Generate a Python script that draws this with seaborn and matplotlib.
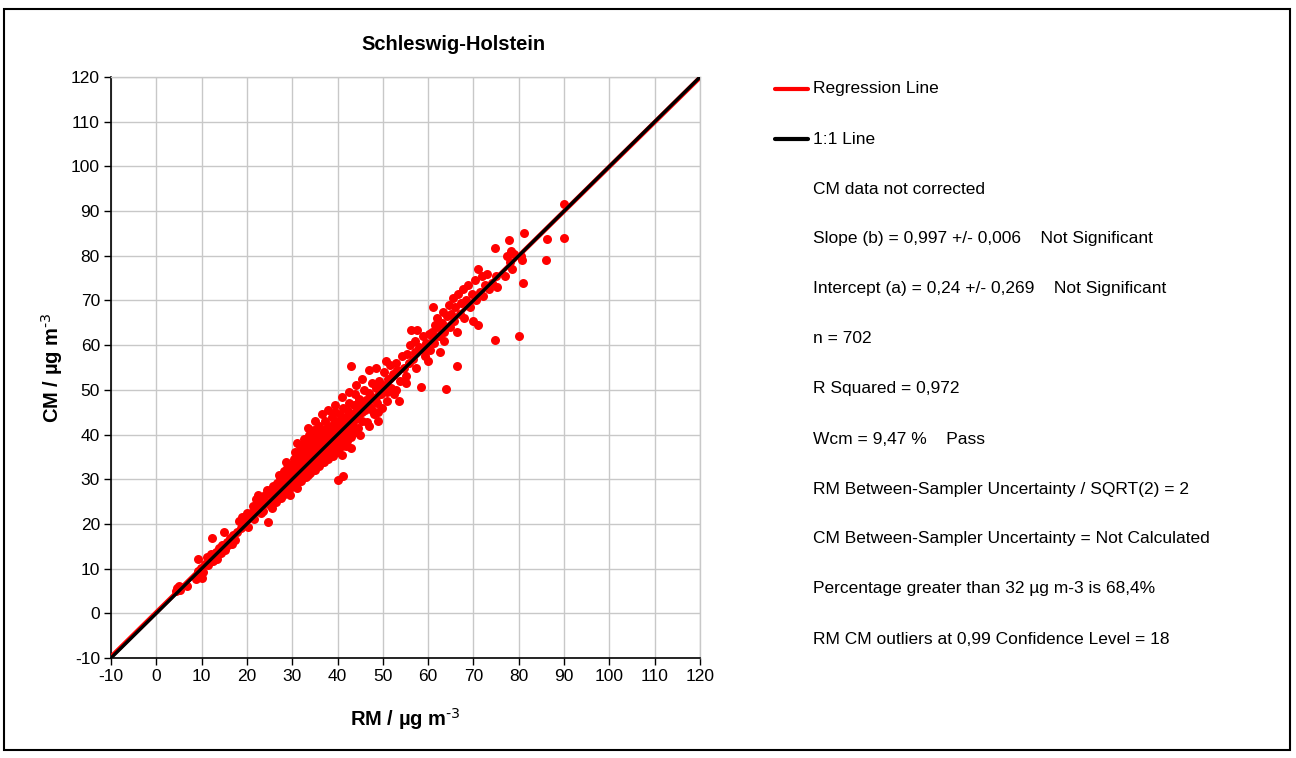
import matplotlib
matplotlib.use("Agg")
import matplotlib.pyplot as plt
import seaborn as sns
import pandas as pd
import numpy as np
from matplotlib.patches import Rectangle
from matplotlib.lines import Line2D

# ---- data ----
rm = [4.3, 4.6, 5.0, 5.3, 6.8, 8.7, 9.0, 9.3, 9.3, 9.8, 10.0, 10.3,
      10.8, 11.2, 11.5, 12.0, 12.2, 12.5, 12.8, 13.2, 13.5, 13.8, 14.2, 14.6, 15.0, 15.2, 15.5, 15.9, 16.2, 16.6, 17.0, 17.4, 17.8, 18.3, 18.6, 19.0, 19.4, 19.8, 20.2,
      20.6, 21.0, 21.3, 21.7, 22.0, 22.3, 22.7, 23.0, 23.3, 23.6, 24.0, 24.3, 24.6, 25.0, 25.2, 25.5, 25.8, 26.0, 26.3, 26.6, 26.9, 27.1, 27.4, 27.6, 27.9, 28.1, 28.3, 28.5, 28.7, 28.9, 29.1, 29.3, 29.5, 29.7, 29.9,
      30.0, 30.1, 30.3, 30.4, 30.6, 30.7, 30.9, 31.0, 31.1, 31.3, 31.4, 31.6, 31.7, 31.9, 32.0, 32.2, 32.3, 32.5, 32.6, 32.8, 32.9, 33.1, 33.2, 33.4, 33.5, 33.7, 33.8, 34.0, 34.1, 34.3, 34.4, 34.6, 34.7, 34.9, 35.0, 35.2, 35.3, 35.5, 35.6, 35.8, 35.9, 36.1, 36.2, 36.4, 36.5, 36.7, 36.8, 37.0, 37.1, 37.3, 37.4, 37.6, 37.7, 37.9, 38.0, 38.2, 38.3, 38.5, 38.6, 38.8, 38.9, 39.1, 39.2, 39.4, 39.5, 39.7, 39.8, 40.0, 40.0, 41.2,
      40.2, 40.4, 40.6, 40.8, 41.0, 41.2, 41.4, 41.6, 41.8, 42.0, 42.2, 42.4, 42.6, 42.8, 43.0, 43.2, 43.4, 43.6, 43.8, 44.0, 44.2, 44.5, 44.7, 45.0, 45.2, 45.5, 45.8, 46.0, 46.3, 46.6, 46.9, 47.2, 47.5, 47.8, 48.1, 48.4, 48.7, 49.0, 49.2, 49.5, 49.8,
      50.0, 50.3, 50.6, 50.9, 51.2, 51.5, 51.8, 52.2, 52.5, 52.8, 53.2, 53.5, 53.8, 54.2, 54.6, 55.0, 55.3, 55.7, 56.0, 56.3, 56.6, 57.0, 57.3, 57.6, 58.0, 58.5, 58.8, 59.2, 59.6, 60.0,
      60.2, 60.5, 60.8, 61.0, 61.3, 61.6, 62.0, 62.3, 62.6, 63.0, 63.3, 63.6, 63.9, 64.2, 64.5, 64.8, 65.1, 65.4, 65.7, 66.0, 66.3, 66.3, 66.6, 67.0, 67.3, 67.6, 68.0, 68.4, 68.8, 69.2, 69.6, 70.0, 70.3, 70.6, 71.0, 71.0, 71.4, 71.8, 72.2, 72.6, 73.0, 73.5, 74.0, 74.7, 74.7, 75.0, 75.3,
      77.0, 77.5, 77.8, 78.0, 78.3, 78.6, 79.0, 80.1, 80.5, 80.8, 81.2, 81.0, 86.0, 86.2, 90.0, 90.0,
      20.0, 21.5, 22.5, 23.5, 24.5, 25.5, 26.5, 27.0, 27.5, 28.0, 29.0, 29.5, 28.6,
      31.0, 32.0, 33.0, 34.0, 35.0, 36.0, 37.0, 38.0, 39.0, 40.0, 41.0, 42.0, 43.0, 44.0,
      33.5, 35.0, 36.5, 38.0, 39.5, 41.0, 42.5, 44.0, 45.5, 47.0, 48.5,
      36.0, 37.5, 38.5, 39.5, 40.5, 41.5, 42.5, 43.5, 44.5, 45.5, 46.5, 47.5, 48.5, 49.5,
      41.0, 43.0, 45.0, 47.0, 49.0, 51.0, 53.0, 55.0, 57.0, 59.0, 61.0, 62.0, 63.5,
      30.5, 31.5, 32.5, 33.5, 34.5, 35.5, 36.5, 37.5, 38.5, 39.5, 40.5, 41.5]
cm = [5.0, 5.6, 6.0, 5.3, 6.0, 7.6, 8.2, 9.5, 12.2, 10.2, 8.0, 9.3,
      11.0, 12.5, 10.8, 13.2, 16.9, 11.8, 12.8, 13.7, 12.2, 14.6, 13.5, 15.2, 18.3, 14.2, 16.0, 15.2, 16.8, 15.5, 17.6, 16.4, 18.3, 20.7, 19.0, 21.6, 20.0, 20.8, 19.4,
      21.5, 22.4, 24.0, 23.0, 25.5, 23.5, 24.8, 22.5, 25.9, 24.4, 26.4, 25.0, 20.5, 27.5, 24.2, 26.2, 28.5, 25.5, 27.3, 29.2, 26.6, 28.0, 30.5, 27.2, 29.0, 31.8, 28.3, 30.0, 27.0, 32.5, 29.5, 31.0, 28.0, 30.5, 33.0,
      29.0, 31.8, 34.5, 30.2, 32.6, 36.0, 31.0, 38.0, 33.5, 29.8, 35.2, 32.0, 37.5, 34.0, 31.0, 36.5, 33.0, 39.0, 35.0, 31.5, 37.0, 34.3, 38.4, 32.5, 36.0, 40.0, 34.8, 37.8, 33.0, 36.6, 39.2, 35.3, 41.0, 37.2, 34.0, 38.8, 36.2, 40.3, 35.0, 37.8, 42.0, 36.6, 39.5, 34.6, 38.2, 41.0, 36.0, 39.8, 37.0, 43.0, 38.5, 35.5, 40.5, 37.5, 42.0, 39.2, 36.2, 41.5, 38.0, 44.0, 40.0, 36.8, 42.5, 39.0, 45.0, 41.0, 37.5, 43.0, 29.8, 30.8,
      39.5, 41.8, 44.5, 38.2, 42.5, 46.0, 40.2, 43.8, 37.5, 41.5, 45.2, 43.0, 47.0, 40.8, 55.3, 44.2, 42.0, 46.5, 49.0, 43.5, 45.5, 41.5, 48.0, 44.8, 46.8, 43.0, 50.0, 45.5, 47.8, 42.8, 49.2, 46.2, 51.5, 48.0, 44.5, 50.5, 47.0, 43.0, 52.0, 49.0, 46.0,
      51.0, 54.0, 56.5, 49.5, 52.5, 55.5, 50.5, 53.5, 49.0, 56.0, 54.5, 47.5, 52.0, 57.5, 55.0, 51.5, 58.0, 56.0, 60.0, 63.5, 57.0, 61.0, 55.0, 63.5, 59.5, 50.6, 62.0, 57.5, 60.5, 56.5,
      62.5, 59.0, 63.0, 68.5, 60.5, 64.5, 66.0, 62.0, 58.5, 65.0, 67.5, 61.0, 50.3, 66.5, 69.0, 64.0, 67.0, 70.5, 65.5, 68.5, 63.0, 55.3, 71.5, 67.0, 69.5, 72.5, 66.0, 70.0, 73.5, 68.5, 71.5, 65.5, 74.5, 70.0, 77.0, 64.5, 72.0, 75.5, 71.0, 73.5, 76.0, 72.5, 74.0, 61.2, 81.8, 75.5, 73.0,
      75.5, 80.0, 83.5, 78.5, 81.0, 77.0, 80.5, 62.1, 80.0, 79.0, 85.0, 74.0, 79.0, 83.8, 91.5, 84.0,
      22.5, 21.0, 26.5, 23.0, 27.5, 23.5, 25.0, 31.0, 25.8, 26.5, 33.5, 26.5, 33.8,
      28.0, 29.5, 30.5, 31.5, 32.0, 33.0, 33.8, 34.5, 35.2, 36.0, 37.5, 38.5, 39.5, 40.5,
      41.5, 43.0, 44.5, 45.5, 46.5, 48.5, 49.5, 51.0, 52.5, 54.5, 55.0,
      37.0, 39.5, 37.0, 38.5, 40.0, 42.5, 41.0, 44.5, 47.0, 45.0, 47.0, 45.5, 48.5, 50.5,
      35.5, 37.0, 40.0, 42.0, 45.0, 47.5, 50.0, 53.0, 58.5, 59.0, 61.5, 64.0, 63.0,
      33.0, 29.5, 35.5, 31.0, 37.5, 33.5, 39.0, 35.0, 40.5, 36.5, 42.5, 39.0]

slope = 0.997
intercept = 0.24
legend_labels = ["Regression Line", "1:1 Line"]
stats_lines = [
    "CM data not corrected",
    "Slope (b) = 0,997 +/- 0,006    Not Significant",
    "Intercept (a) = 0,24 +/- 0,269    Not Significant",
    "n = 702",
    "R Squared = 0,972",
    "Wcm = 9,47 %    Pass",
    "RM Between-Sampler Uncertainty / SQRT(2) = 2",
    "CM Between-Sampler Uncertainty = Not Calculated",
    "Percentage greater than 32 \u00b5g m-3 is 68,4%",
    "RM CM outliers at 0,99 Confidence Level = 18",
]
ticks = list(range(-10, 121, 10))

df = pd.DataFrame({"RM": rm, "CM": cm})

sns.set_theme(style="white")
plt.rcParams["font.family"] = ["Liberation Sans", "DejaVu Sans"]
plt.rcParams["mathtext.default"] = "regular"
plt.rcParams["axes.unicode_minus"] = False
plt.rcParams["text.color"] = "black"
plt.rcParams["axes.labelcolor"] = "black"

fig = plt.figure(figsize=(12.96, 7.58), dpi=100)
ax = fig.add_axes([111/1296, 1-658/758, (700-111)/1296, (658-77)/758])

sns.scatterplot(data=df, x="RM", y="CM", ax=ax, color="#ff0000", s=42,
                linewidth=0, zorder=3, legend=False)

xl = np.array([-10, 120])
ax.plot(xl, slope*xl + intercept, color="#ff0000", lw=3.2, zorder=4, solid_capstyle="butt")
ax.plot(xl, xl, color="black", lw=2.4, zorder=5, solid_capstyle="butt")

ax.set_xlim(-10, 120)
ax.set_ylim(-10, 120)
ax.set_xticks(ticks)
ax.set_yticks(ticks)
ax.grid(True, color="#c8c8c8", lw=1)
ax.set_axisbelow(True)
for s in ["top", "right"]:
    ax.spines[s].set_color("#c8c8c8")
    ax.spines[s].set_linewidth(1)
for s in ["left", "bottom"]:
    ax.spines[s].set_color("black")
    ax.spines[s].set_linewidth(1.2)
ax.tick_params(axis="both", which="major", direction="out", length=5, width=1,
               color="black", labelsize=12.5, pad=3, labelcolor="black",
               left=True, bottom=True)
ax.set_xlabel("RM / \u00b5g m$^{\\text{-3}}$", fontsize=14.5, fontweight="bold", labelpad=16)
ax.set_ylabel("CM / \u00b5g m$^{\\text{-3}}$", fontsize=14.5, fontweight="bold", labelpad=4)

fig.text(453/1296, 1-44/758, "Schleswig-Holstein", ha="center", va="center",
         fontsize=14.5, fontweight="bold", color="black")

# legend-like panel
fig.add_artist(Line2D([775/1296, 808/1296], [1-89/758, 1-89/758], color="#ff0000", lw=3))
fig.add_artist(Line2D([775/1296, 808/1296], [1-139/758, 1-139/758], color="black", lw=3))
fig.text(813/1296, 1-89/758, legend_labels[0], ha="left", va="center", fontsize=12.5, color="black")
fig.text(813/1296, 1-139/758, legend_labels[1], ha="left", va="center", fontsize=12.5, color="black")
for i, t in enumerate(stats_lines):
    y = 189 + 50*i
    fig.text(813/1296, 1-y/758, t, ha="left", va="center", fontsize=12.5, color="black")

fig.add_artist(Rectangle((4/1296, 1-750/758), (1290-4)/1296, (750-9)/758,
                         fill=False, edgecolor="black", lw=1.5, transform=fig.transFigure))

fig.savefig("out.png", dpi=100, facecolor="white")
